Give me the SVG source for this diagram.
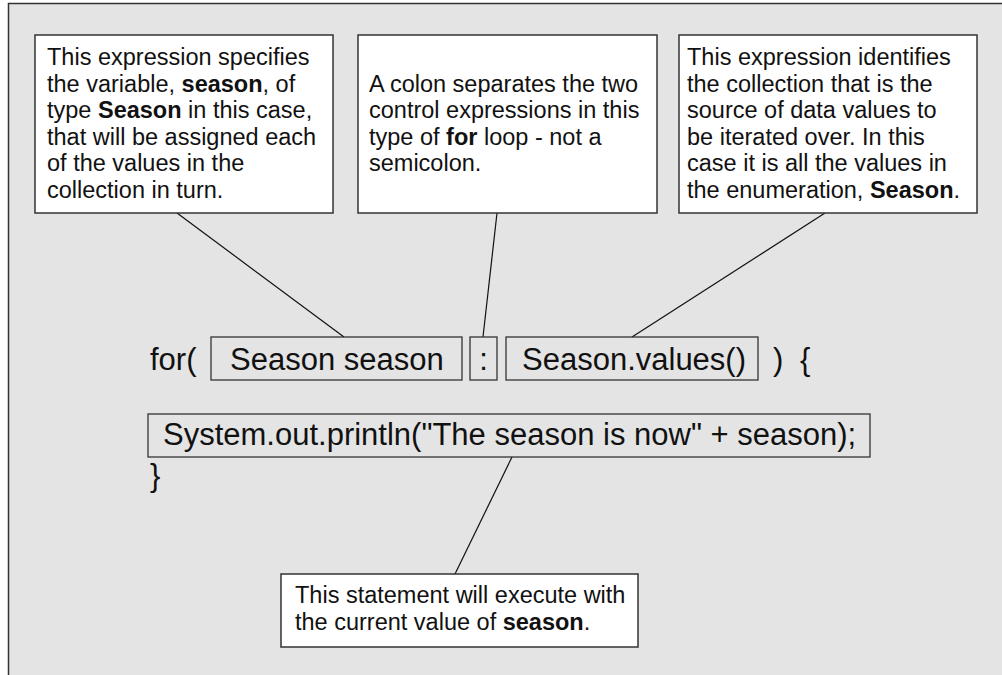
<svg xmlns="http://www.w3.org/2000/svg" width="1002" height="675" viewBox="0 0 1002 675">
<style>
.note{fill:#fff;stroke:#333;stroke-width:1.5}
.code{fill:none;stroke:#333;stroke-width:1.3}
.nt{font-family:"Liberation Sans",Arial,sans-serif;font-size:23.5px;fill:#111}
.ct{font-family:"Liberation Sans",Arial,sans-serif;font-size:31px;fill:#111}
.b{font-weight:bold}
.conn line{stroke:#111;stroke-width:1.2}
</style>
<rect x="0" y="0" width="1002" height="675" fill="#fff"/>
<rect id="frame" x="8.5" y="3.5" width="1010" height="700" fill="#e4e4e4" stroke="#333" stroke-width="1.5"/>
<g class="conn" id="connectors">
<line x1="177" y1="213" x2="344" y2="337"/>
<line x1="497" y1="213" x2="483" y2="337"/>
<line x1="825" y1="213" x2="632" y2="337"/>
<line x1="512" y1="457" x2="455" y2="574"/>
</g>
<g id="note-variable">
<rect class="note" x="35" y="35" width="298" height="178"/>
<text class="nt"><tspan x="47" y="65">This expression specifies</tspan><tspan x="47" y="91.6">the variable, <tspan class="b">season</tspan>, of</tspan><tspan x="47" y="118.2">type <tspan class="b">Season</tspan> in this case,</tspan><tspan x="47" y="144.8">that will be assigned each</tspan><tspan x="47" y="171.4">of the values in the</tspan><tspan x="47" y="198">collection in turn.</tspan></text>
</g>
<g id="note-colon">
<rect class="note" x="358" y="35" width="299" height="178"/>
<text class="nt"><tspan x="369" y="91.6">A colon separates the two</tspan><tspan x="369" y="118.2">control expressions in this</tspan><tspan x="369" y="144.8">type of <tspan class="b">for</tspan> loop - not a</tspan><tspan x="369" y="171.4">semicolon.</tspan></text>
</g>
<g id="note-collection">
<rect class="note" x="679" y="35" width="298" height="178"/>
<text class="nt"><tspan x="687" y="65">This expression identifies</tspan><tspan x="687" y="91.6">the collection that is the</tspan><tspan x="687" y="118.2">source of data values to</tspan><tspan x="687" y="144.8">be iterated over. In this</tspan><tspan x="687" y="171.4">case it is all the values in</tspan><tspan x="687" y="198">the enumeration, <tspan class="b">Season</tspan>.</tspan></text>
</g>
<g id="code-for">
<text class="ct" x="150" y="370">for(</text>
</g>
<g id="code-var">
<rect class="code" x="211" y="337" width="251" height="43"/>
<text class="ct" x="230" y="370">Season season</text>
</g>
<g id="code-colon">
<rect class="code" x="470" y="337" width="27" height="43"/>
<text class="ct" x="483.5" y="370" text-anchor="middle">:</text>
</g>
<g id="code-values">
<rect class="code" x="506" y="337" width="252" height="43"/>
<text class="ct" x="522" y="370">Season.values()</text>
</g>
<g id="code-close">
<text class="ct" x="773" y="370">)</text>
<text class="ct" x="800" y="370">{</text>
</g>
<g id="code-println">
<rect class="code" x="148" y="414" width="722" height="43"/>
<text class="ct" x="163" y="445">System.out.println("The season is now" + season);</text>
</g>
<g id="code-end">
<text class="ct" x="150" y="486">}</text>
</g>
<g id="note-statement">
<rect class="note" x="281" y="574" width="357" height="73"/>
<text class="nt"><tspan x="295" y="603">This statement will execute with</tspan><tspan x="295" y="630">the current value of <tspan class="b">season</tspan>.</tspan></text>
</g>
</svg>
